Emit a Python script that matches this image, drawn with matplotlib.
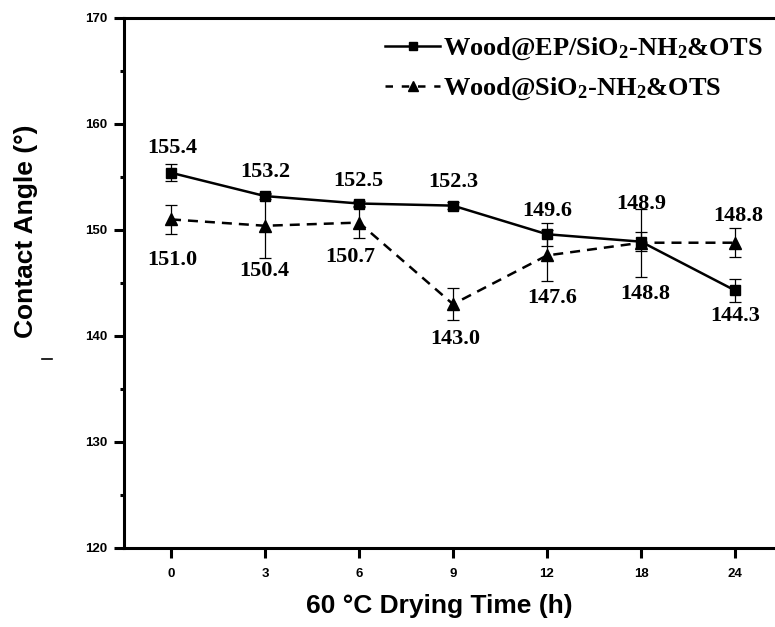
import matplotlib.pyplot as plt
import numpy as np
from matplotlib.lines import Line2D

# drying time categories (h), equally spaced on the axis
times = ['0', '3', '6', '9', '12', '18', '24']

ep_angle = [155.4, 153.2, 152.5, 152.3, 149.6, 148.9, 144.3]
ep_err = [0.8, 0.3, 0.25, 0.3, 1.1, 0.9, 1.1]

plain_angle = [151.0, 150.4, 150.7, 143.0, 147.6, 148.8, 148.8]
plain_err = [1.35, 3.0, 1.5, 1.5, 2.4, 3.2, 1.35]

ep_name = r'Wood@EP/SiO$_\mathbf{2}$-NH$_\mathbf{2}$&OTS'
plain_name = r'Wood@SiO$_\mathbf{2}$-NH$_\mathbf{2}$&OTS'

# label offsets from each point, in pixels (dx, dy up)
ep_off = [(1, 25), (0, 24), (-1, 23), (0, 24), (0, 23), (0, 38), (0, -26)]
plain_off = [(1, -41), (-1, -45), (-9, -34), (2, -35), (5, -43), (4, -51), (3, 27)]

plt.rcParams['mathtext.fontset'] = 'custom'
plt.rcParams['mathtext.rm'] = 'Liberation Serif:bold'
plt.rcParams['mathtext.bf'] = 'Liberation Serif:bold'
plt.rcParams['mathtext.it'] = 'Liberation Serif:bold'

fig = plt.figure(figsize=(7.75, 6.27), dpi=100)
ax = fig.add_axes([124/775, 1-548/627, 658/775, 530/627])

x = np.arange(len(times))

dash = (0, (4, 2.8))
ax.errorbar(x, ep_angle, yerr=ep_err, color='k', lw=1.8, marker='s', ms=7.5,
            elinewidth=0.9, capsize=4.5, capthick=0.9, zorder=3)
ax.errorbar(x, plain_angle, yerr=plain_err, color='k', lw=1.8, ls=dash,
            marker='^', ms=9, elinewidth=0.9, capsize=4.5, capthick=0.9, zorder=3)

lab_font = dict(family='Liberation Serif', weight='bold', size=16)
for xi, v, off in zip(x, ep_angle, ep_off):
    ax.annotate(f'{v:.1f}', (xi, v), xytext=(off[0]*0.72, off[1]*0.72),
                textcoords='offset points', ha='center', va='center', **lab_font)
for xi, v, off in zip(x, plain_angle, plain_off):
    ax.annotate(f'{v:.1f}', (xi, v), xytext=(off[0]*0.72, off[1]*0.72),
                textcoords='offset points', ha='center', va='center', **lab_font)

ax.set_xlim(-0.5, len(times) - 0.5)
ax.set_ylim(120, 170)
ax.set_xticks(x)
ax.set_xticklabels(times)
ax.set_yticks([120, 130, 140, 150, 160, 170])
ax.set_yticks(np.arange(125, 170, 10), minor=True)

for s in ax.spines.values():
    s.set_linewidth(2.2)
ax.tick_params(axis='both', which='major', direction='out', length=7.5, width=2.2)
ax.tick_params(axis='y', which='minor', direction='out', length=3, width=2.2)
ax.tick_params(axis='y', pad=4.5)
ax.tick_params(axis='x', pad=7)
for t in ax.get_xticklabels() + ax.get_yticklabels():
    t.set_family('Liberation Sans')
    t.set_weight('bold')
    t.set_size(9.5)

fig.text(26/775, 1-231/627, 'Contact Angle (°)', rotation=90, ha='center', va='center',
         family='Liberation Sans', weight='bold', size=19)
fig.text(439/775, 1-606/627, '60 °C Drying Time (h)', ha='center', va='center',
         family='Liberation Sans', weight='bold', size=19)

# little stray mark left of the axis in the original
fig.add_artist(Line2D([42/775, 52/775], [1-359/627, 1-359/627], color='k', lw=1.2))

handles = [Line2D([], [], color='k', lw=1.8, marker='s', ms=6),
           Line2D([], [], color='k', lw=1.8, ls=(0, (3, 3.5)), marker='^', ms=7.5)]
leg = ax.legend(handles, [ep_name, plain_name], loc='upper left',
                bbox_to_anchor=(385/775, 1-36/627),
                bbox_transform=fig.transFigure, frameon=False, borderpad=0,
                borderaxespad=0, handlelength=2.1, handletextpad=0.1,
                labelspacing=0.5,
                prop=dict(family='Liberation Serif', weight='bold', size=19))

fig.savefig('out.png', dpi=100)
